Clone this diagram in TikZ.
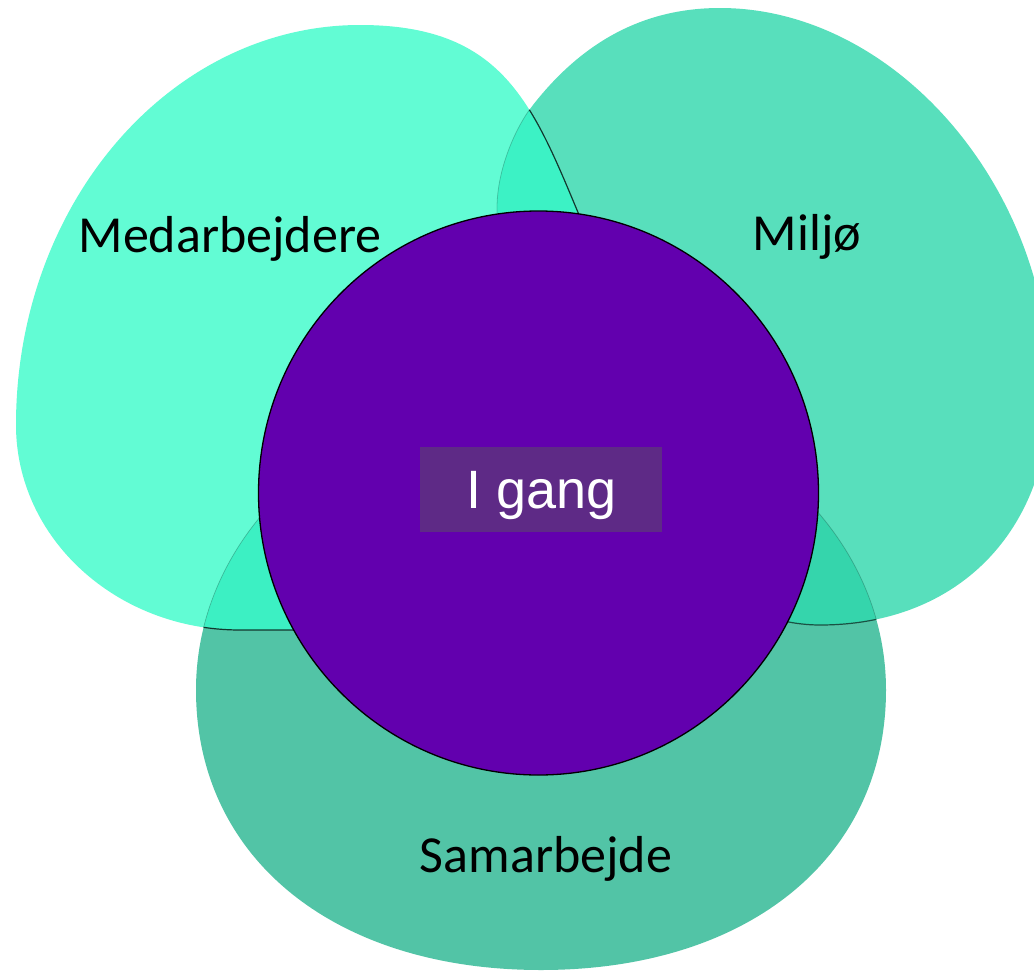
\documentclass[tikz,border=0pt]{standalone}
\usepackage{fontspec}
\setmainfont{Carlito}
\newfontfamily\labelfont{Liberation Sans}
\definecolor{colA}{HTML}{62FCD4}
\definecolor{colB}{HTML}{58DFBC}
\definecolor{colC}{HTML}{52C4A6}
\definecolor{lensAB}{HTML}{3CF2C5}
\definecolor{lensAC}{HTML}{3CF0C3}
\definecolor{lensBC}{HTML}{35D5AC}
\definecolor{purp}{HTML}{6200AE}
\definecolor{boxcol}{HTML}{5E2A86}
% left blob (Medarbejdere)
\newcommand{\blobA}{(16,425) .. controls (16,204) and (170,25) .. (360,25)
  .. controls (500,25) and (531,100) .. (577,210)
  .. controls (600,265) and (610,420) .. (520,540)
  .. controls (470,600) and (380,630) .. (290,630)
  -- (240,630) .. controls (116,630) and (16,538) .. (16,425) -- cycle}
% right blob (Miljø)
\newcommand{\blobB}{(533,105) .. controls (515,128) and (497,170) .. (497,208)
  .. controls (497,300) and (520,400) .. (560,450)
  .. controls (620,530) and (720,625) .. (820,625)
  .. controls (958,625) and (1050,531) .. (1050,390)
  .. controls (1050,187.5) and (895,8) .. (720,8)
  .. controls (640,8) and (580,45) .. (533,105) -- cycle}
% bottom blob (Samarbejde)
\newcommand{\blobC}{(886,690) .. controls (886,858) and (748,970) .. (541,970)
  .. controls (334,970) and (196,858) .. (196,690)
  .. controls (196,525.4) and (350.5,392) .. (541,392)
  .. controls (731.5,392) and (886,525.4) .. (886,690) -- cycle}
\tikzset{
  venntext/.style={anchor=base, text=black, font=\fontsize{52}{52}\selectfont},
  edgedark/.style={draw=black, line width=1.2pt, draw opacity=0.75},
  edgefaint/.style={draw=black, line width=0.8pt, draw opacity=0.18},
}
\begin{document}
\begin{tikzpicture}[x=1pt, y=-1pt]
\useasboundingbox (0,0) rectangle (1034,972);
\clip (0,0) rectangle (1034,972);
\fill[white] (0,0) rectangle (1034,972);
% blobs
\fill[colA] \blobA;
\fill[colB] \blobB;
\fill[colC] \blobC;
% lenses
\begin{scope}
  \clip \blobA;
  \fill[lensAB] \blobB;
\end{scope}
\begin{scope}
  \clip \blobA;
  \fill[lensAC] \blobC;
\end{scope}
\begin{scope}
  \clip \blobB;
  \fill[lensBC] \blobC;
\end{scope}
% edges inside other blobs
\begin{scope}
  \clip \blobB;
  \path[edgedark] \blobA;
\end{scope}
\begin{scope}
  \clip \blobC;
  \path[edgedark] \blobA;
  \path[edgedark, draw opacity=0.6] \blobB;
\end{scope}
\begin{scope}
  \clip \blobA;
  \path[edgefaint] \blobB;
  \path[edgefaint] \blobC;
\end{scope}
\begin{scope}
  \clip \blobB;
  \path[edgefaint] \blobC;
\end{scope}
% central circle
\filldraw[fill=purp, draw=black, line width=1.3pt] (538.5,493) ellipse[x radius=280pt, y radius=282pt];
\node[fill=boxcol, minimum width=242pt, minimum height=85pt, inner sep=0pt] (boxnode) at (541,489.5) {};
\node[anchor=base, text=white, font=\labelfont\fontsize{54}{54}\selectfont] (igang) at (542,508) {I gang};
\node[venntext] (medarb) at (230,252) {Medarbejdere};
\node[venntext] (miljo) at (807,250) {Miljø};
\node[venntext] (samarb) at (546,872) {Samarbejde};
\end{tikzpicture}
\end{document}
